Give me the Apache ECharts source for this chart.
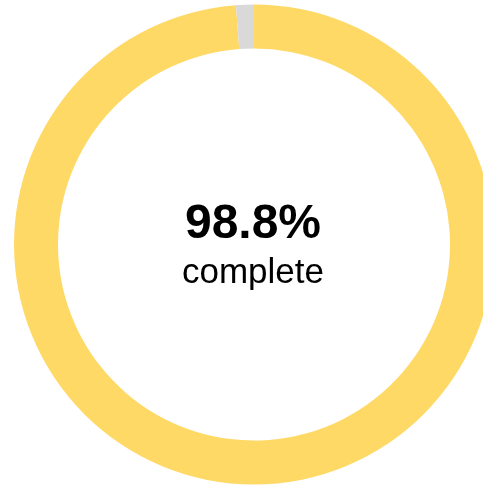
<!DOCTYPE html>
<html>
<head>
<meta charset="utf-8">
<script src="https://cdn.jsdelivr.net/npm/echarts@6/dist/echarts.min.js"></script>
<style>
  html, body { margin: 0; padding: 0; background: #fff; }
  #chart { width: 483px; height: 487px; }
</style>
</head>
<body>
<div id="chart"></div>
<script>
// 数据
const labels = ['complete', 'remaining']
const values = [98.8, 1.2]
const colors = ['#FFD966', '#D9D9D9']
const centerValue = '98.8%'
const centerLabel = 'complete'

const myChart = echarts.init(document.getElementById('chart'))

const options = {
  animation: false,
  graphic: [
    {
      type: 'text',
      x: 253,
      y: 225,
      style: {
        text: centerValue,
        font: 'bold 48px "Liberation Sans", Arial, sans-serif',
        fill: '#000',
        align: 'center',
        verticalAlign: 'middle',
      },
    },
    {
      type: 'text',
      x: 253,
      y: 273,
      style: {
        text: centerLabel,
        font: '35px "Liberation Sans", Arial, sans-serif',
        fill: '#000',
        align: 'center',
        verticalAlign: 'middle',
      },
    },
  ],
  series: [
    {
      type: 'pie',
      center: [254, 244.5],
      radius: [196, 240],
      startAngle: 90,
      clockwise: true,
      silent: true,
      label: { show: false },
      labelLine: { show: false },
      data: labels.map((name, i) => ({
        name: name,
        value: values[i],
        itemStyle: { color: colors[i] },
      })),
    },
  ],
}
myChart.setOption(options)
</script>
</body>
</html>
